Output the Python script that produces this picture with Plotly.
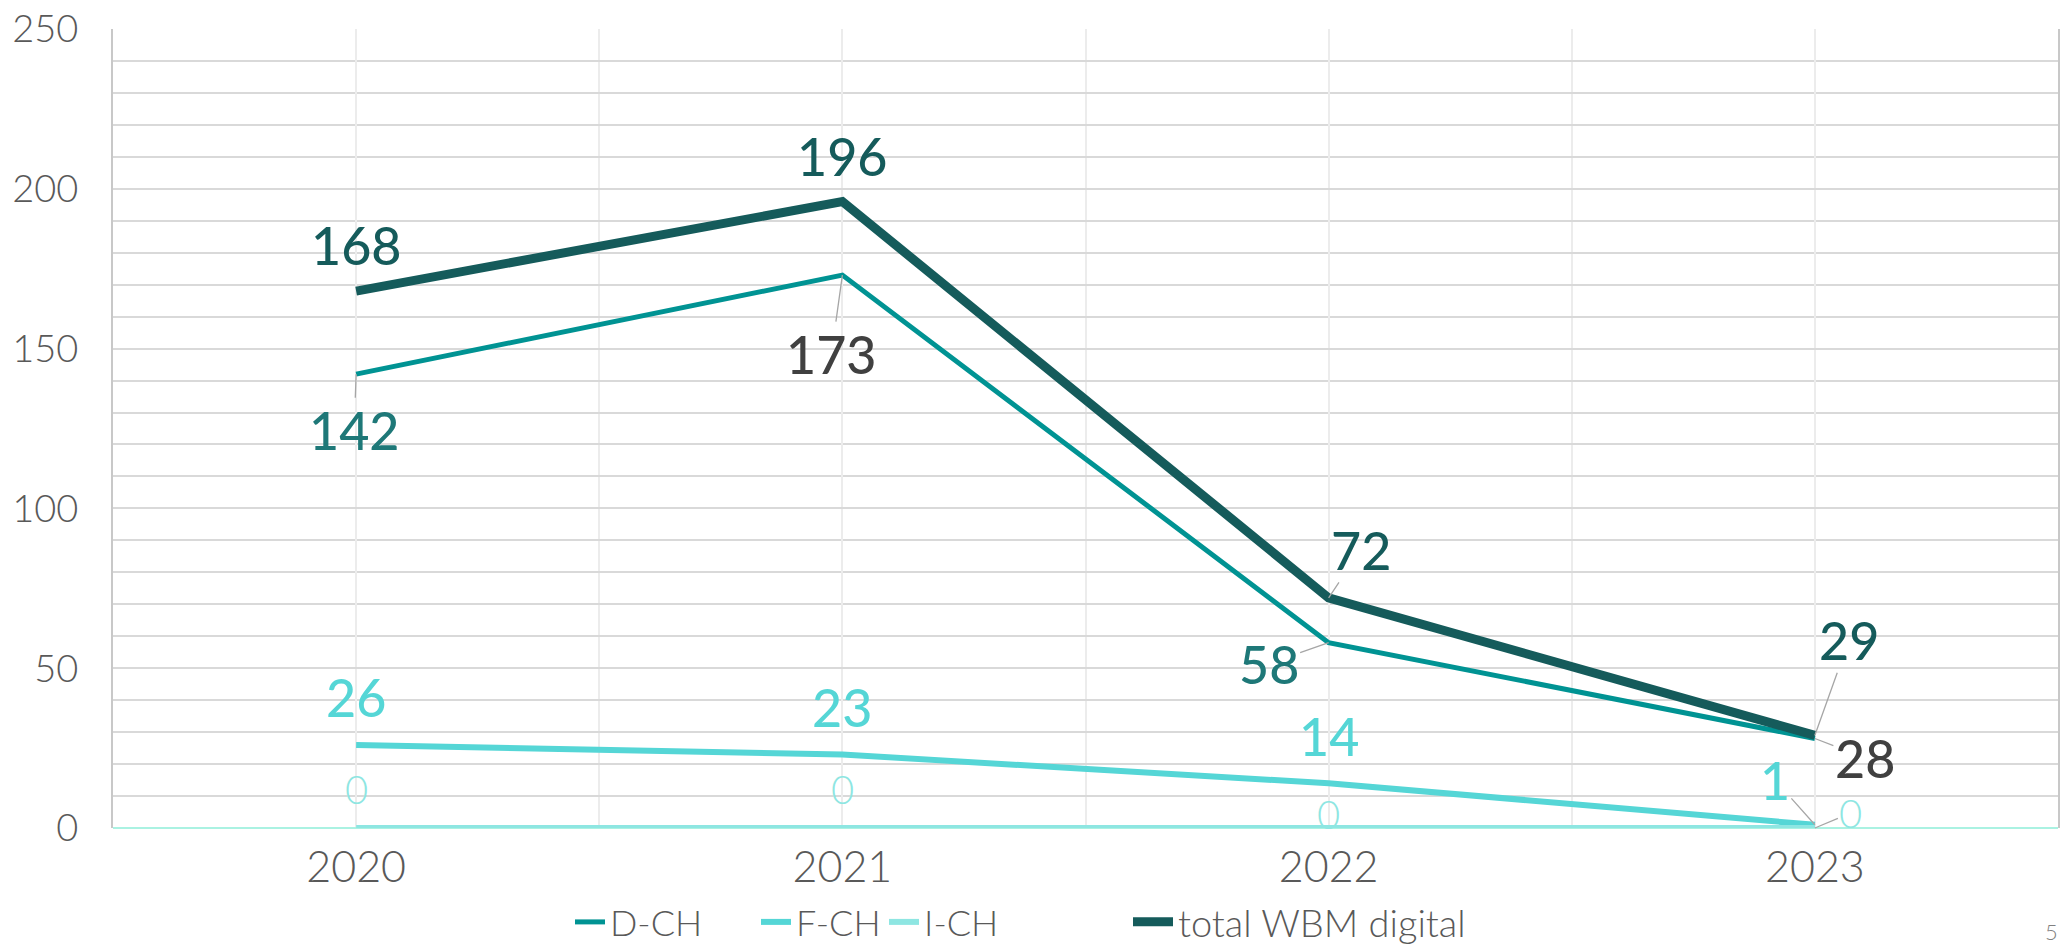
import plotly.graph_objects as go

years = ["2020", "2021", "2022", "2023"]
d_ch = [142, 173, 58, 28]
f_ch = [26, 23, 14, 1]
i_ch = [0, 0, 0, 0]
total = [168, 196, 72, 29]
y_ticks = [0, 50, 100, 150, 200, 250]

xi = list(range(len(years)))

FONT = "Lato"
C_D = "#009393"
C_F = "#55d6d6"
C_I = "#8ee6e2"
C_T = "#155b5b"

W, H = 2053, 936

fig = go.Figure()
fig.add_trace(go.Scatter(x=xi, y=d_ch, name="D-CH", mode="lines", legend="legend",
                         line=dict(color=C_D, width=5)))
fig.add_trace(go.Scatter(x=xi, y=f_ch, name="F-CH", mode="lines", legend="legend2",
                         line=dict(color=C_F, width=6)))
fig.add_trace(go.Scatter(x=xi, y=i_ch, name="I-CH", mode="lines", legend="legend3",
                         line=dict(color=C_I, width=6)))
fig.add_trace(go.Scatter(x=xi, y=total, name="total WBM digital", mode="lines", legend="legend4",
                         line=dict(color=C_T, width=9)))

# label specs: (series values, index, color, size, weight, ax, ay, leader)
labels = [
    (total, 0, C_T, 52, 500, 0, -46, False),
    (total, 1, C_T, 52, 500, 0, -46, False),
    (total, 2, C_T, 52, 500, 32, -48, True),
    (total, 3, C_T, 52, 500, 34, -95, True),
    (d_ch, 0, "#1e7878", 52, 500, -2, 56, True),
    (d_ch, 1, "#404040", 52, 500, -11, 79, True),
    (d_ch, 2, "#1e7878", 52, 500, -60, 21, True),
    (d_ch, 3, "#404040", 52, 500, 50, 19, True),
    (f_ch, 0, C_F, 52, 500, 0, -48, False),
    (f_ch, 1, C_F, 52, 500, 0, -47, False),
    (f_ch, 2, C_F, 52, 500, 0, -47, False),
    (f_ch, 3, C_F, 52, 500, -40, -45, True),
    (i_ch, 0, C_I, 40, 300, 0, -39, False),
    (i_ch, 1, C_I, 40, 300, 0, -39, False),
    (i_ch, 2, C_I, 40, 300, 0, -14, False),
    (i_ch, 3, C_I, 40, 300, 36, -15, True),
]
for vals, i, col, sz, wt, ax, ay, lead in labels:
    if lead:
        fig.add_annotation(x=xi[i], y=vals[i], text=str(vals[i]), showarrow=True,
                           arrowhead=0, arrowwidth=1.3, arrowcolor="#a6a6a6",
                           ax=ax, ay=ay, standoff=0,
                           font=dict(family=FONT, size=sz, color=col, weight=wt))
    else:
        fig.add_annotation(x=xi[i], y=vals[i], text=str(vals[i]), showarrow=False,
                           xshift=ax, yshift=-ay,
                           font=dict(family=FONT, size=sz, color=col, weight=wt))

fig.add_annotation(xref="paper", yref="paper", x=0.9969, y=-0.13, text="5",
                   showarrow=False, xanchor="center", yanchor="middle",
                   font=dict(family=FONT, size=22, color="#808080", weight=300))

def leg(x_px, size=36, iw=30):
    return dict(orientation="h", xref="container", yref="container",
                x=x_px / W, y=1 - 914 / H, xanchor="left", yanchor="middle",
                bgcolor="rgba(0,0,0,0)",
                font=dict(size=size, color="#595959", weight=300), itemwidth=iw)

fig.update_layout(
    width=W, height=H,
    paper_bgcolor="white", plot_bgcolor="white",
    margin=dict(l=105, r=3, t=21, b=116, autoexpand=False),
    font=dict(family=FONT, color="#595959"),
    showlegend=True,
    legend=leg(562),
    legend2=leg(748),
    legend3=leg(876),
    legend4=leg(1120, 38, 40),
    xaxis=dict(range=[-0.5, 3.5], tickvals=xi, ticktext=years,
               showgrid=True, gridcolor="#ececec", gridwidth=1.5,
               minor=dict(dtick=0.5, tick0=-0.5, showgrid=True, gridcolor="#ececec", gridwidth=1.5),
               showline=False, zeroline=False, ticks="",
               tickfont=dict(size=43, color="#595959", weight=300), ticklabelstandoff=10),
    yaxis=dict(range=[0, 250], tickvals=y_ticks,
               showgrid=True, gridcolor="#d9d9d9", gridwidth=2,
               minor=dict(dtick=10, showgrid=True, gridcolor="#d9d9d9", gridwidth=2),
               showline=True, mirror=True, linecolor="#c8c8c8", linewidth=2,
               zeroline=True, zerolinecolor="#aaf2e2", zerolinewidth=2,
               ticks="", ticklabeloverflow="allow",
               tickfont=dict(size=38, color="#595959", weight=300), ticklabelstandoff=25),
)

fig.write_html("out.html")
